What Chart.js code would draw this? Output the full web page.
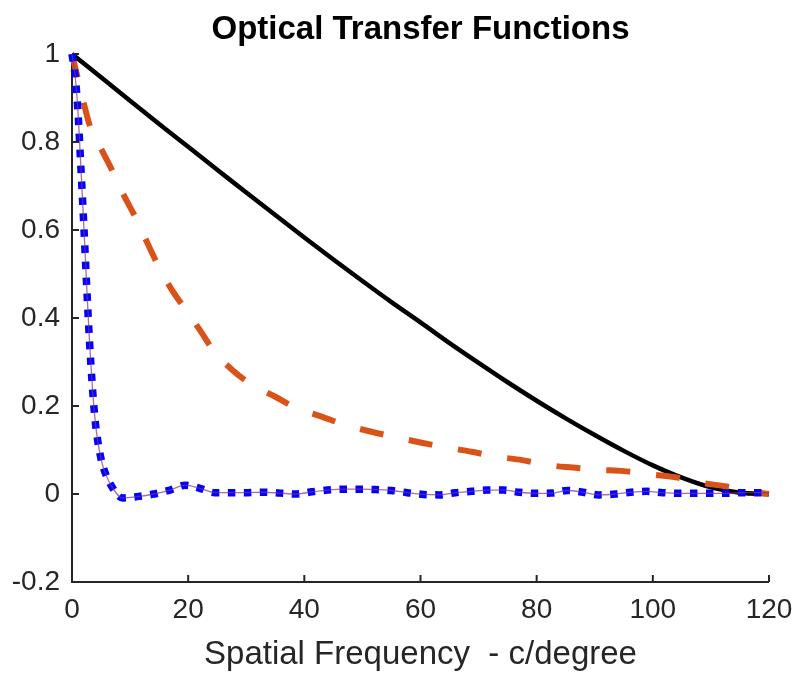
<!DOCTYPE html>
<html>
<head>
<meta charset="utf-8">
<script src="https://cdn.jsdelivr.net/npm/chart.js@4/dist/chart.umd.min.js"></script>
<style>
  html, body { margin: 0; padding: 0; background: #ffffff; }
  #wrap { width: 798px; height: 676px; }
</style>
</head>
<body>
<div id="wrap"><canvas id="c" width="798" height="676"></canvas></div>
<script>
// ---- Data ----
const chartTitle = "Optical Transfer Functions";
const xAxisTitle = "Spatial Frequency  - c/degree";
const xTickValues = [0, 20, 40, 60, 80, 100, 120];
const yTickValues = [-0.2, 0, 0.2, 0.4, 0.6, 0.8, 1];

// Diffraction-limited OTF (black solid)
const blackX = [0, 5, 10, 15, 20, 25, 30, 35, 40, 45, 50, 55, 60, 65, 70, 75, 80, 85, 90, 95, 100, 105, 110, 115, 120];
const blackY = [1, 0.947, 0.894, 0.841, 0.789, 0.737, 0.685, 0.634, 0.583, 0.533, 0.484, 0.436, 0.390, 0.343, 0.298, 0.254, 0.212, 0.172, 0.134, 0.098, 0.065, 0.037, 0.015, 0.003, 0];

// Orange dashed OTF
const orangeX = [0, 1, 2, 3, 5, 7, 9, 11, 13, 15, 17, 19.5, 22, 24.3, 27.5, 31, 35, 38.7, 43, 47, 51.4, 55.8, 60, 64.4, 68.8, 73, 77.5, 81.8, 86.2, 90.6, 95, 99.4, 103.9, 108, 112.7, 116.7, 120];
const orangeY = [1, 0.945, 0.89, 0.84, 0.785, 0.733, 0.677, 0.627, 0.57, 0.515, 0.468, 0.42, 0.373, 0.327, 0.283, 0.248, 0.221, 0.195, 0.176, 0.157, 0.142, 0.129, 0.117, 0.106, 0.096, 0.085, 0.077, 0.066, 0.06, 0.055, 0.052, 0.045, 0.038, 0.026, 0.017, 0.006, 0];

// Blue dotted OTF (with thin purple overlay of the same values)
const blueX = [0, 0.5, 1, 1.5, 2, 2.5, 3, 3.5, 4, 4.5, 5, 5.6, 6.8, 8.7, 11.2, 14.1, 16.9, 19.5, 22, 24.6, 27.5, 30.2, 33, 35.8, 38.6, 41.3, 44, 46.8, 49.6, 52.3, 55, 57.7, 60.5, 63.3, 66, 68.8, 71.5, 74.3, 77, 79.8, 82.6, 85.3, 88, 90.7, 93.5, 96.2, 99, 101.7, 104.5, 107.3, 110, 112.8, 115.6, 118.3, 120];
const blueY = [1, 0.955, 0.875, 0.75, 0.62, 0.48, 0.35, 0.245, 0.165, 0.115, 0.08, 0.052, 0.018, -0.009, -0.006, 0.0, 0.009, 0.02, 0.013, 0.003, 0.003, 0.003, 0.004, 0.002, 0.0, 0.005, 0.009, 0.011, 0.011, 0.01, 0.008, 0.003, -0.001, -0.002, 0.003, 0.006, 0.009, 0.009, 0.004, 0.0015, 0.002, 0.008, 0.004, -0.002, 0.0, 0.004, 0.006, 0.003, 0.0015, 0.0015, 0.0015, 0.0015, 0.003, 0.003, 0.002];

function pts(xs, ys) { return xs.map((x, i) => ({ x: x, y: ys[i] })); }

const FONT = '"Liberation Sans", Arial, Helvetica, sans-serif';
const AXIS_COLOR = '#262626';

const axesPlugin = {
  id: 'matlabAxes',
  beforeDatasetsDraw(chart) {
    const { ctx, chartArea: a, scales: { x, y } } = chart;
    ctx.save();
    ctx.strokeStyle = AXIS_COLOR;
    ctx.lineWidth = 2;
    ctx.lineCap = 'butt';
    ctx.beginPath();
    ctx.moveTo(a.left, a.top);
    ctx.lineTo(a.left, a.bottom + 1);
    ctx.moveTo(a.left - 1, a.bottom);
    ctx.lineTo(a.right, a.bottom);
    xTickValues.forEach(v => {
      const px = x.getPixelForValue(v);
      ctx.moveTo(px, a.bottom);
      ctx.lineTo(px, a.bottom - 7);
    });
    yTickValues.forEach(v => {
      const py = y.getPixelForValue(v);
      ctx.moveTo(a.left, py);
      ctx.lineTo(a.left + 7, py);
    });
    ctx.stroke();
    ctx.restore();
  },
  afterDraw(chart) {
    const { ctx, chartArea: a } = chart;
    ctx.save();
    ctx.fillStyle = '#000000';
    ctx.font = 'bold 33px ' + FONT;
    ctx.textAlign = 'center';
    ctx.textBaseline = 'alphabetic';
    ctx.fillText(chartTitle, (a.left + a.right) / 2, 39);
    ctx.restore();
  }
};

new Chart(document.getElementById('c'), {
  type: 'line',
  data: {
    datasets: [
      {
        data: pts(blueX, blueY),
        borderColor: 'rgba(126,47,142,0.7)',
        borderWidth: 1.3,
        pointRadius: 0,
        cubicInterpolationMode: 'monotone',
        order: 1,
        clip: false
      },
      {
        data: pts(blueX, blueY),
        borderColor: '#0000FF',
        borderWidth: 7.5,
        borderDash: [7.5, 8.5],
        borderCapStyle: 'butt',
        pointRadius: 0,
        cubicInterpolationMode: 'monotone',
        order: 2,
        clip: false
      },
      {
        data: pts(orangeX, orangeY),
        borderColor: '#D95319',
        borderWidth: 6,
        borderDash: [24, 26],
        borderCapStyle: 'butt',
        pointRadius: 0,
        cubicInterpolationMode: 'monotone',
        order: 3,
        clip: false
      },
      {
        data: pts(blackX, blackY),
        borderColor: '#000000',
        borderWidth: 4.5,
        pointRadius: 0,
        cubicInterpolationMode: 'monotone',
        order: 4,
        clip: false
      }
    ]
  },
  options: {
    responsive: false,
    animation: false,
    events: [],
    layout: { padding: { top: 54, right: 29, bottom: 0, left: 0 } },
    plugins: {
      legend: { display: false },
      title: { display: false },
      tooltip: { enabled: false }
    },
    scales: {
      x: {
        type: 'linear',
        min: 0,
        max: 120,
        afterBuildTicks(scale) { scale.ticks = xTickValues.map(v => ({ value: v })); },
        afterFit(scale) { scale.height = 94; scale.paddingLeft = 0; scale.paddingRight = 0; },
        grid: { display: false, drawTicks: false },
        border: { display: false },
        ticks: {
          color: AXIS_COLOR,
          font: { family: FONT, size: 28 },
          padding: 11,
          maxRotation: 0,
          callback: v => String(v)
        },
        title: {
          display: true,
          text: xAxisTitle,
          color: AXIS_COLOR,
          font: { family: FONT, size: 33 },
          padding: { top: 0, bottom: 1 }
        }
      },
      y: {
        type: 'linear',
        min: -0.2,
        max: 1,
        afterBuildTicks(scale) { scale.ticks = yTickValues.map(v => ({ value: v })); },
        afterFit(scale) { scale.width = 72; scale.paddingTop = 0; scale.paddingBottom = 0; },
        grid: { display: false, drawTicks: false },
        border: { display: false },
        ticks: {
          color: AXIS_COLOR,
          font: { family: FONT, size: 28 },
          padding: 12,
          callback: v => String(Number(v.toFixed(1)))
        }
      }
    }
  },
  plugins: [axesPlugin]
});
</script>
</body>
</html>
